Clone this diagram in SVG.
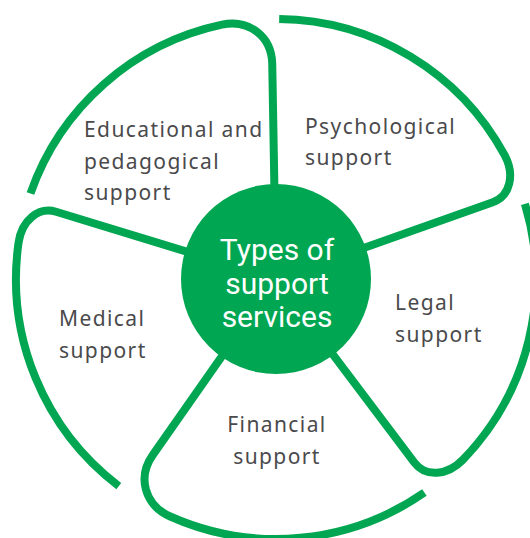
<svg xmlns="http://www.w3.org/2000/svg" width="530" height="538" viewBox="0 0 530 538">
<defs>
<style>
.petal{fill:none;stroke:#00A651;stroke-width:8;stroke-linecap:butt;stroke-linejoin:round}
.lbl{font-family:"Noto Sans","Open Sans",sans-serif;font-size:21px;fill:#4a4a4c;letter-spacing:1.4px}
.ctr{font-family:Roboto,"Noto Sans",sans-serif;font-size:30px;fill:#ffffff}
</style>
<path id="petalRound" d="M90 0 L215 0 C242.43 0 260.53 -22.32 255.22 -49.61 A260 260 0 0 0 89.78 -244.01"/>
<path id="petalSharp" d="M90 0 L230 0 C248.28 0 260.34 -18.30 256.80 -40.67 A260 260 0 0 0 89.78 -244.01"/>
</defs>
<rect width="530" height="538" fill="#ffffff"/>
<g id="connectors">
<use href="#petalRound" class="petal" transform="translate(276 279) rotate(-91)"/>
<use href="#petalSharp" class="petal" transform="translate(276 279) rotate(-19.5)"/>
<use href="#petalSharp" class="petal" transform="translate(276 279) rotate(53)"/>
<use href="#petalRound" class="petal" transform="translate(276 279) rotate(125)"/>
<use href="#petalSharp" class="petal" transform="translate(276 279) rotate(197)"/>
</g>
<g id="center">
<circle cx="276" cy="279" r="95" fill="#00A651"/>
<text class="ctr" text-anchor="middle"><tspan x="277" y="260">Types of</tspan><tspan x="277" y="293.5">support</tspan><tspan x="277" y="327">services</tspan></text>
</g>
<g id="educational">
<text class="lbl"><tspan x="84" y="137">Educational and</tspan><tspan x="84" y="168.5">pedagogical</tspan><tspan x="84" y="200">support</tspan></text>
</g>
<g id="psychological">
<text class="lbl"><tspan x="305" y="133.5">Psychological</tspan><tspan x="305" y="165">support</tspan></text>
</g>
<g id="legal">
<text class="lbl"><tspan x="395" y="310">Legal</tspan><tspan x="395" y="342">support</tspan></text>
</g>
<g id="financial">
<text class="lbl" text-anchor="middle"><tspan x="277" y="432">Financial</tspan><tspan x="277" y="464">support</tspan></text>
</g>
<g id="medical">
<text class="lbl"><tspan x="59" y="326">Medical</tspan><tspan x="59" y="358">support</tspan></text>
</g>
</svg>
